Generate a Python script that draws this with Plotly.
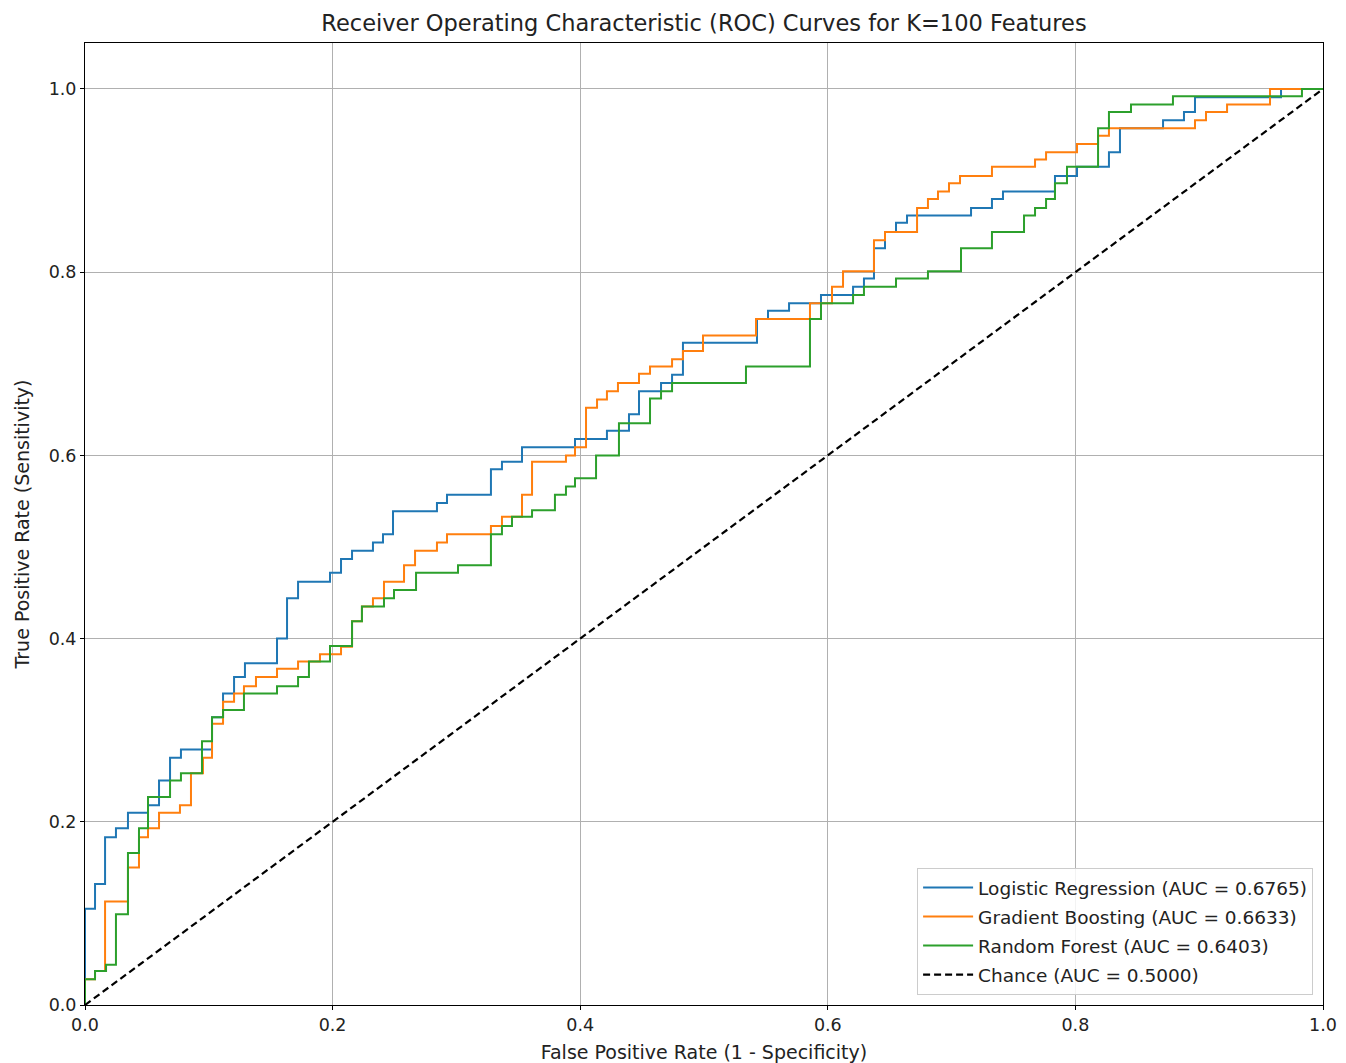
import plotly.graph_objects as go

# ---- data (step vertices: fpr at each jump, tpr after the jump) ----
lr_fpr = [0.0, 0.0, 0.0081, 0.0162, 0.0250, 0.0347, 0.0509, 0.0598, 0.0687, 0.0775,
          0.1026, 0.1115, 0.1204, 0.1292, 0.1551, 0.1632, 0.1721, 0.1979, 0.2068, 0.2157,
          0.2326, 0.2407, 0.2488, 0.2843, 0.2924, 0.3279, 0.3368, 0.3530, 0.3958, 0.4216,
          0.4394, 0.4475, 0.4653, 0.4742, 0.4830, 0.5428, 0.5517, 0.5687, 0.5945, 0.6204,
          0.6292, 0.6373, 0.6462, 0.6551, 0.6640, 0.7157, 0.7326, 0.7415, 0.7835, 0.8013,
          0.8271, 0.8360, 0.8708, 0.8877, 0.8966, 0.9661, 1.0]
lr_tpr = [0.0, 0.105, 0.132, 0.183, 0.193, 0.210, 0.218, 0.245, 0.270, 0.279,
          0.314, 0.340, 0.358, 0.373, 0.400, 0.444, 0.462, 0.472, 0.487, 0.496,
          0.505, 0.514, 0.539, 0.548, 0.557, 0.585, 0.593, 0.609, 0.618, 0.627,
          0.645, 0.670, 0.679, 0.688, 0.723, 0.749, 0.758, 0.766, 0.775, 0.784,
          0.793, 0.826, 0.844, 0.854, 0.862, 0.870, 0.880, 0.888, 0.905, 0.915,
          0.931, 0.957, 0.966, 0.975, 0.991, 1.0, 1.0]

gb_fpr = [0.0, 0.0, 0.0081, 0.0162, 0.0347, 0.0436, 0.0436, 0.0509, 0.0598, 0.0767,
          0.0856, 0.0953, 0.1026, 0.1115, 0.1204, 0.1284, 0.1381, 0.1551, 0.1721, 0.1898,
          0.2068, 0.2157, 0.2237, 0.2326, 0.2415, 0.2577, 0.2666, 0.2843, 0.2924, 0.3279,
          0.3368, 0.3530, 0.3611, 0.3885, 0.3958, 0.4047, 0.4136, 0.4216, 0.4305, 0.4475,
          0.4564, 0.4742, 0.4830, 0.4992, 0.5420, 0.5856, 0.6034, 0.6123, 0.6373, 0.6462,
          0.6721, 0.6809, 0.6890, 0.6979, 0.7068, 0.7326, 0.7674, 0.7763, 0.8013, 0.8183,
          0.8271, 0.8966, 0.9055, 0.9225, 0.9572, 1.0]
gb_tpr = [0.0, 0.028, 0.037, 0.113, 0.150, 0.164, 0.183, 0.193, 0.210, 0.218,
          0.253, 0.270, 0.307, 0.331, 0.340, 0.348, 0.358, 0.367, 0.375, 0.383,
          0.391, 0.419, 0.435, 0.444, 0.462, 0.480, 0.496, 0.505, 0.514, 0.523,
          0.533, 0.557, 0.593, 0.600, 0.609, 0.652, 0.661, 0.670, 0.679, 0.689,
          0.697, 0.705, 0.714, 0.731, 0.749, 0.766, 0.784, 0.801, 0.835, 0.844,
          0.870, 0.880, 0.888, 0.897, 0.905, 0.915, 0.923, 0.931, 0.940, 0.949,
          0.957, 0.966, 0.975, 0.983, 1.0, 1.0]

rf_fpr = [0.0, 0.0, 0.0081, 0.0170, 0.0250, 0.0347, 0.0436, 0.0509, 0.0687, 0.0775,
          0.0945, 0.1026, 0.1115, 0.1284, 0.1551, 0.1721, 0.1809, 0.1979, 0.2157, 0.2237,
          0.2415, 0.2496, 0.2674, 0.3013, 0.3279, 0.3368, 0.3449, 0.3611, 0.3796, 0.3885,
          0.3958, 0.4128, 0.4313, 0.4564, 0.4653, 0.4742, 0.5339, 0.5856, 0.5945, 0.6204,
          0.6292, 0.6551, 0.6809, 0.7076, 0.7326, 0.7585, 0.7674, 0.7763, 0.7835, 0.7932,
          0.8183, 0.8271, 0.8449, 0.8788, 0.9830, 1.0]
rf_tpr = [0.0, 0.028, 0.037, 0.044, 0.099, 0.166, 0.193, 0.227, 0.245, 0.253,
          0.288, 0.314, 0.322, 0.340, 0.348, 0.358, 0.375, 0.392, 0.419, 0.435,
          0.444, 0.453, 0.472, 0.480, 0.514, 0.523, 0.533, 0.540, 0.557, 0.566,
          0.575, 0.600, 0.635, 0.662, 0.670, 0.679, 0.697, 0.749, 0.766, 0.775,
          0.784, 0.793, 0.801, 0.826, 0.844, 0.862, 0.870, 0.880, 0.897, 0.915,
          0.957, 0.975, 0.983, 0.992, 1.0, 1.0]

chance_x = [0.0, 1.0]
chance_y = [0.0, 1.0]

series_names = ["Logistic Regression (AUC = 0.6765)",
                "Gradient Boosting (AUC = 0.6633)",
                "Random Forest (AUC = 0.6403)",
                "Chance (AUC = 0.5000)"]
tick_vals = [0.0, 0.2, 0.4, 0.6, 0.8, 1.0]
tick_text = ["0.0", "0.2", "0.4", "0.6", "0.8", "1.0"]

FONT = "DejaVu Sans"

fig = go.Figure()
curves = [(lr_fpr, lr_tpr, "#1f77b4"), (gb_fpr, gb_tpr, "#ff7f0e"), (rf_fpr, rf_tpr, "#2ca02c")]
for i, (fx, fy, col) in enumerate(curves):
    fig.add_trace(go.Scatter(x=fx, y=fy, mode="lines", line=dict(color=col, width=2, shape="hv"),
                             name=series_names[i], legendgroup=str(i)))
fig.add_trace(go.Scatter(x=chance_x, y=chance_y, mode="lines",
                         line=dict(color="black", width=2.2, dash="7px,4px"),
                         name=series_names[3], legendgroup="3"))

axis_common = dict(showgrid=True, gridcolor="#b0b0b0", gridwidth=1, zeroline=False,
                   showline=True, linecolor="black", linewidth=1, mirror=True,
                   ticks="outside", ticklen=4, tickcolor="black", automargin=False,
                   tickfont=dict(family=FONT, size=17.5, color="#222"),
                   tickvals=tick_vals, ticktext=tick_text)

fig.update_layout(
    width=1346, height=1063,
    margin=dict(l=85, r=23, t=43, b=58),
    paper_bgcolor="white", plot_bgcolor="white",
    title=dict(text="Receiver Operating Characteristic (ROC) Curves for K=100 Features",
               x=(85 + 1323) / 2 / 1346, xanchor="center", y=1 - 23 / 1063, yanchor="middle",
               font=dict(family=FONT, size=22.5, color="#222")),
    xaxis=dict(range=[0, 1], title=dict(text="False Positive Rate (1 - Specificity)",
               font=dict(family=FONT, size=19, color="#222"), standoff=11), **axis_common),
    yaxis=dict(range=[0, 1.0502], title=dict(text="True Positive Rate (Sensitivity)",
               font=dict(family=FONT, size=19, color="#222"), standoff=14), **axis_common),
    legend=dict(x=0.992, y=0.0104, xanchor="right", yanchor="bottom",
                bgcolor="rgba(255,255,255,0.85)", bordercolor="#cccccc", borderwidth=1,
                font=dict(family=FONT, size=18.5, color="#222"), tracegroupgap=2,
                itemwidth=50),
    showlegend=True,
)

fig.write_html("out.html")
